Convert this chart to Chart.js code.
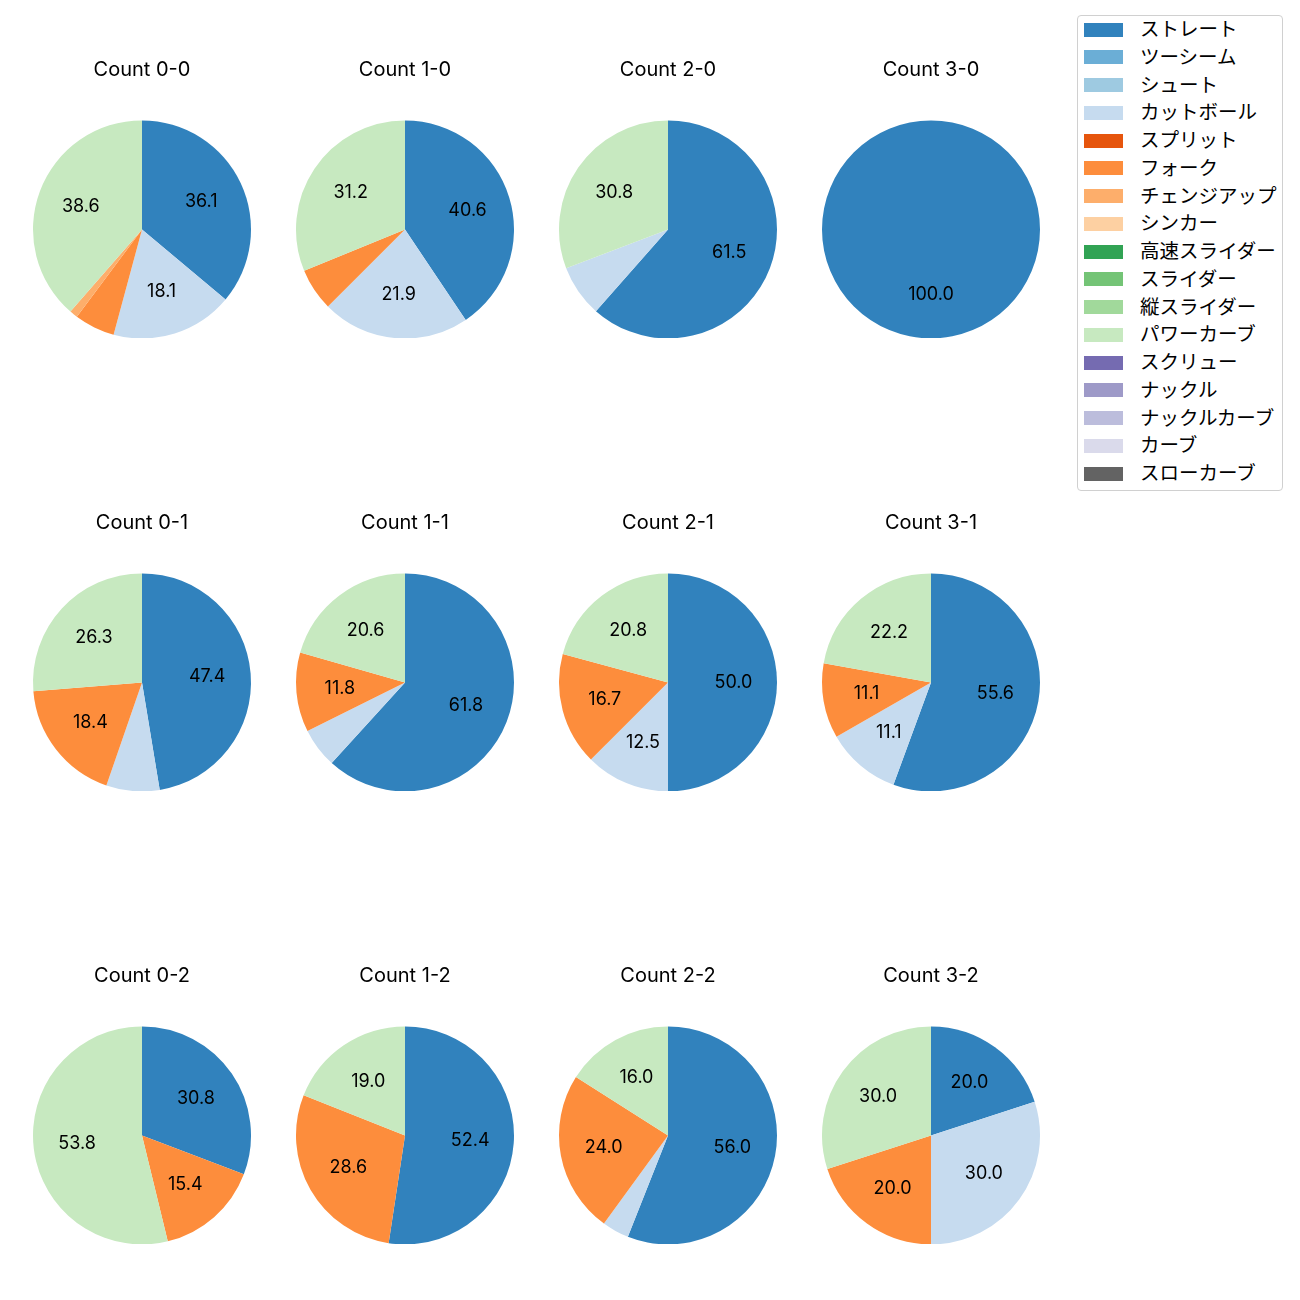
<!DOCTYPE html>
<html lang="ja">
<head>
  <meta charset="UTF-8">
  <title>Count別 球種割合</title>
  <script src="https://cdn.jsdelivr.net/npm/chart.js"></script>
  <style>
    body {
      margin: 0;
      width: 1300px;
      height: 1300px;
      position: relative;
      background: #fff;
      font-family: Inter, "Noto Sans CJK JP", sans-serif;
    }
    .pie-box {
      position: absolute;
      width: 240px;
      height: 290px;
    }
    #legend {
      position: absolute;
      left: 1077px;
      top: 15px;
      width: 204px;
      height: 474px;
      border: 1px solid #d0d0d0;
      border-radius: 4px;
      font-size: 19.5px;
      color: #000;
    }
    .legend-row {
      position: absolute;
      left: 0;
      height: 28px;
      width: 100%;
    }
    .legend-row .patch {
      position: absolute;
      left: 6px;
      top: 6.5px;
      width: 39px;
      height: 14px;
    }
    .legend-row .name {
      position: absolute;
      left: 62px;
      top: -1px;
      line-height: 28px;
      white-space: nowrap;
    }
  </style>
</head>
<body>
  <div id="legend"></div>

  <script>
    // 球種
    const pitchTypes = ['ストレート', 'ツーシーム', 'シュート', 'カットボール', 'スプリット', 'フォーク',
      'チェンジアップ', 'シンカー', '高速スライダー', 'スライダー', '縦スライダー', 'パワーカーブ',
      'スクリュー', 'ナックル', 'ナックルカーブ', 'カーブ', 'スローカーブ'];
    const pitchColors = ['#3182bd', '#6baed6', '#9ecae1', '#c6dbef', '#e6550d', '#fd8d3c',
      '#fdae6b', '#fdd0a2', '#31a354', '#74c476', '#a1d99b', '#c7e9c0',
      '#756bb1', '#9e9ac8', '#bcbddc', '#dadaeb', '#636363'];

    // 各カウントの割合 (%), pitchTypes と同じ順
    const count00 = [36.1, 0, 0, 18.1, 0, 6.0, 1.2, 0, 0, 0, 0, 38.6, 0, 0, 0, 0, 0];
    const count10 = [40.6, 0, 0, 21.9, 0, 6.3, 0, 0, 0, 0, 0, 31.2, 0, 0, 0, 0, 0];
    const count20 = [61.5, 0, 0, 7.7, 0, 0, 0, 0, 0, 0, 0, 30.8, 0, 0, 0, 0, 0];
    const count30 = [100.0, 0, 0, 0, 0, 0, 0, 0, 0, 0, 0, 0, 0, 0, 0, 0, 0];
    const count01 = [47.4, 0, 0, 7.9, 0, 18.4, 0, 0, 0, 0, 0, 26.3, 0, 0, 0, 0, 0];
    const count11 = [61.8, 0, 0, 5.9, 0, 11.8, 0, 0, 0, 0, 0, 20.6, 0, 0, 0, 0, 0];
    const count21 = [50.0, 0, 0, 12.5, 0, 16.7, 0, 0, 0, 0, 0, 20.8, 0, 0, 0, 0, 0];
    const count31 = [55.6, 0, 0, 11.1, 0, 11.1, 0, 0, 0, 0, 0, 22.2, 0, 0, 0, 0, 0];
    const count02 = [30.8, 0, 0, 0, 0, 15.4, 0, 0, 0, 0, 0, 53.8, 0, 0, 0, 0, 0];
    const count12 = [52.4, 0, 0, 0, 0, 28.6, 0, 0, 0, 0, 0, 19.0, 0, 0, 0, 0, 0];
    const count22 = [56.0, 0, 0, 4.0, 0, 24.0, 0, 0, 0, 0, 0, 16.0, 0, 0, 0, 0, 0];
    const count32 = [20.0, 0, 0, 30.0, 0, 20.0, 0, 0, 0, 0, 0, 30.0, 0, 0, 0, 0, 0];

    const panels = [
      { title: 'Count 0-0', data: count00 }, { title: 'Count 1-0', data: count10 },
      { title: 'Count 2-0', data: count20 }, { title: 'Count 3-0', data: count30 },
      { title: 'Count 0-1', data: count01 }, { title: 'Count 1-1', data: count11 },
      { title: 'Count 2-1', data: count21 }, { title: 'Count 3-1', data: count31 },
      { title: 'Count 0-2', data: count02 }, { title: 'Count 1-2', data: count12 },
      { title: 'Count 2-2', data: count22 }, { title: 'Count 3-2', data: count32 }
    ];

    const colCenters = [141.5, 404.5, 667.5, 930.5];
    const rowCenters = [229, 682, 1135];
    const FONT = 'Inter, "Noto Sans CJK JP", sans-serif';

    // 10%以上のスライスに割合を表示 (半径の0.6の位置)
    const pctLabels = {
      id: 'pctLabels',
      afterDatasetsDraw(chart) {
        const ctx = chart.ctx;
        const values = chart.data.datasets[0].data;
        ctx.save();
        ctx.font = '18px ' + FONT;
        ctx.fillStyle = '#000';
        ctx.textAlign = 'center';
        ctx.textBaseline = 'middle';
        chart.getDatasetMeta(0).data.forEach((arc, i) => {
          if (values[i] < 10) return;
          const p = arc.getProps(['x', 'y', 'startAngle', 'endAngle', 'outerRadius'], true);
          const mid = (p.startAngle + p.endAngle) / 2;
          const r = p.outerRadius * 0.6;
          ctx.fillText(values[i].toFixed(1), p.x + Math.cos(mid) * r, p.y + Math.sin(mid) * r);
        });
        ctx.restore();
      }
    };

    panels.forEach((panel, idx) => {
      const cx = colCenters[idx % 4];
      const cy = rowCenters[Math.floor(idx / 4)];
      const box = document.createElement('div');
      box.className = 'pie-box';
      box.style.left = (cx - 120) + 'px';
      box.style.top = (cy - 180.8) + 'px';
      const canvas = document.createElement('canvas');
      box.appendChild(canvas);
      document.body.appendChild(box);

      new Chart(canvas, {
        type: 'pie',
        data: {
          labels: pitchTypes,
          datasets: [{
            data: panel.data,
            backgroundColor: pitchColors,
            borderWidth: 0
          }]
        },
        options: {
          responsive: true,
          maintainAspectRatio: false,
          animation: false,
          events: [],
          radius: 109,
          layout: { padding: 0 },
          plugins: {
            legend: { display: false },
            tooltip: { enabled: false },
            title: {
              display: true,
              text: panel.title,
              color: '#000',
              font: { family: FONT, size: 20, weight: 'normal', lineHeight: 1.2 },
              padding: { top: 10.2, bottom: 38.6 }
            }
          }
        },
        plugins: [pctLabels]
      });
    });

    // 凡例
    const legend = document.getElementById('legend');
    pitchTypes.forEach((name, i) => {
      const row = document.createElement('div');
      row.className = 'legend-row';
      row.style.top = (i * 27.75) + 'px';
      row.innerHTML = '<span class="patch" style="background:' + pitchColors[i] + '"></span>' +
        '<span class="name">' + name + '</span>';
      legend.appendChild(row);
    });
  </script>
</body>
</html>
